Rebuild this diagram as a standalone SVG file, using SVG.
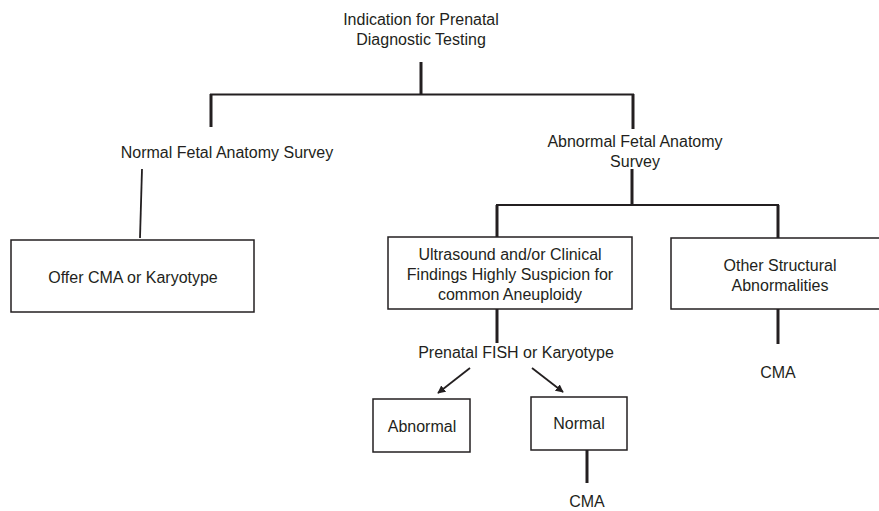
<svg xmlns="http://www.w3.org/2000/svg" width="879" height="511" viewBox="0 0 879 511">
<defs>
<style>
text{font-family:"Liberation Sans",Arial,sans-serif;font-size:16px;fill:#231f20;text-anchor:middle}
.box{fill:#fff;stroke:#231f20;stroke-width:1.5}
.thick{stroke:#231f20;stroke-width:3;fill:none}
.thin{stroke:#231f20;stroke-width:1.8;fill:none}
</style>
<marker id="ah" viewBox="0 0 10 10" refX="9" refY="5" markerWidth="8" markerHeight="8" markerUnits="userSpaceOnUse" orient="auto">
<path d="M0,0 L10,5 L0,10 Z" fill="#231f20"/>
</marker>
</defs>
<rect width="879" height="511" fill="#fff"/>
<g id="connectors">
<line class="thick" x1="421" y1="62" x2="421" y2="95"/>
<line class="thin" x1="210" y1="94.5" x2="634" y2="94.5"/>
<line class="thick" x1="211" y1="94" x2="211" y2="127"/>
<line class="thick" x1="633" y1="94" x2="633" y2="129"/>
<line class="thin" x1="142" y1="169" x2="140" y2="238"/>
<line class="thick" x1="632" y1="169" x2="632" y2="205"/>
<line class="thin" x1="496" y1="205" x2="779" y2="205"/>
<line class="thick" x1="497" y1="205" x2="497" y2="237"/>
<line class="thick" x1="778" y1="205" x2="778" y2="238"/>
<line class="thick" x1="497" y1="309" x2="497" y2="343"/>
<line class="thick" x1="778" y1="309" x2="778" y2="344"/>
<line class="thin" x1="470" y1="368" x2="438" y2="393" marker-end="url(#ah)"/>
<line class="thin" x1="532" y1="368" x2="563" y2="392" marker-end="url(#ah)"/>
<line class="thick" x1="587" y1="450" x2="587" y2="483"/>
</g>
<g id="root"><text x="421" y="25">Indication for Prenatal</text><text x="421" y="45">Diagnostic Testing</text></g>
<g id="normal-survey"><text x="227" y="158">Normal Fetal Anatomy Survey</text></g>
<g id="abnormal-survey"><text x="635" y="147">Abnormal Fetal Anatomy</text><text x="635" y="167">Survey</text></g>
<g id="offer"><rect class="box" x="11" y="240" width="243" height="72"/><text x="133" y="283">Offer CMA or Karyotype</text></g>
<g id="ultrasound"><rect class="box" x="388" y="237" width="244" height="72"/><text x="510" y="260">Ultrasound and/or Clinical</text><text x="510" y="280">Findings Highly Suspicion for</text><text x="510" y="300">common Aneuploidy</text></g>
<g id="other"><rect class="box" x="671" y="238" width="215" height="71"/><text x="780" y="271">Other Structural</text><text x="780" y="291">Abnormalities</text></g>
<g id="cma-right"><text x="778" y="378">CMA</text></g>
<g id="fish"><text x="516" y="358">Prenatal FISH or Karyotype</text></g>
<g id="abnormal"><rect class="box" x="373" y="399" width="97" height="53"/><text x="422" y="432">Abnormal</text></g>
<g id="normal"><rect class="box" x="531" y="397" width="96" height="53"/><text x="579" y="429">Normal</text></g>
<g id="cma-bottom"><text x="587" y="507">CMA</text></g>
</svg>
